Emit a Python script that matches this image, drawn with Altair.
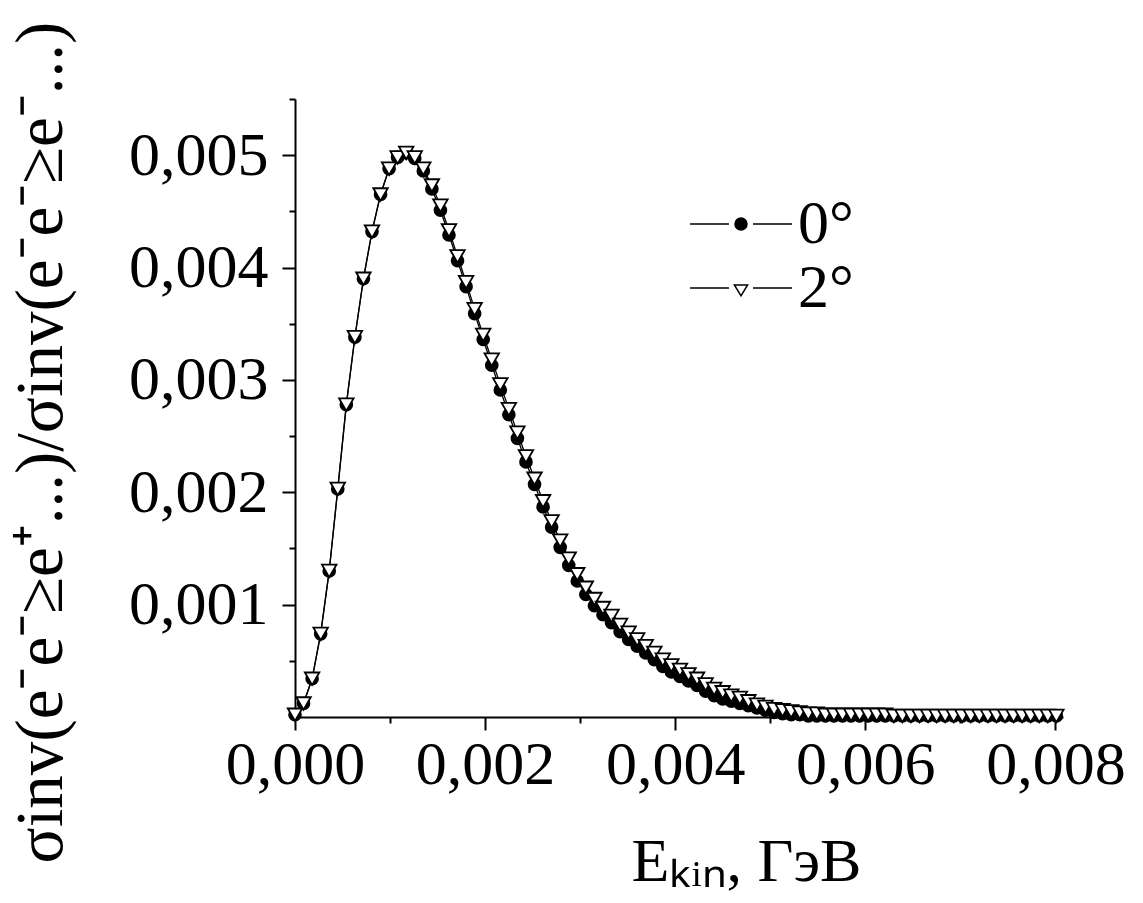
import altair as alt
import pandas as pd

energy = [0.00000, 0.00009, 0.00018, 0.00027, 0.00036, 0.00045, 0.00054, 0.00063, 0.00072, 0.00081,
          0.00090, 0.00099, 0.00108, 0.00117, 0.00126, 0.00135, 0.00144, 0.00153, 0.00162, 0.00171,
          0.00180, 0.00189, 0.00198, 0.00207, 0.00216, 0.00225, 0.00234, 0.00243, 0.00252, 0.00261,
          0.00270, 0.00279, 0.00288, 0.00297, 0.00306, 0.00315, 0.00324, 0.00333, 0.00342, 0.00351,
          0.00360, 0.00369, 0.00378, 0.00387, 0.00396, 0.00405, 0.00414, 0.00423, 0.00432, 0.00441,
          0.00450, 0.00459, 0.00468, 0.00477, 0.00486, 0.00495, 0.00504, 0.00513, 0.00522, 0.00531,
          0.00540, 0.00549, 0.00558, 0.00567, 0.00576, 0.00585, 0.00594, 0.00603, 0.00612, 0.00621,
          0.00630, 0.00639, 0.00648, 0.00657, 0.00666, 0.00675, 0.00684, 0.00693, 0.00702, 0.00711,
          0.00720, 0.00729, 0.00738, 0.00747, 0.00756, 0.00765, 0.00774, 0.00783, 0.00792, 0.00801]

ratio_2deg = [0.00002, 0.00012, 0.00034, 0.00074, 0.00130, 0.00203, 0.00278, 0.00338, 0.00390, 0.00432,
              0.00465, 0.00488, 0.00498, 0.00502, 0.00498, 0.00488, 0.00473, 0.00455, 0.00433, 0.00410,
              0.00387, 0.00363, 0.00340, 0.00318, 0.00296, 0.00274, 0.00253, 0.00232, 0.00212, 0.00192,
              0.00174, 0.00157, 0.00141, 0.00127, 0.00115, 0.00105, 0.00097, 0.00090, 0.00082, 0.00075,
              0.00069, 0.00063, 0.00057, 0.00051, 0.00046, 0.00042, 0.00038, 0.00034, 0.00029, 0.00025,
              0.00022, 0.00019, 0.00017, 0.00014, 0.00011, 0.00009, 0.00007, 0.00006, 0.00005, 0.00004,
              0.00003, 0.00003, 0.00002, 0.00002, 0.00002, 0.00002, 0.00002, 0.00002, 0.00002, 0.00002,
              0.00001, 0.00001, 0.00001, 0.00001, 0.00001, 0.00001, 0.00001, 0.00001, 0.00001, 0.00001,
              0.00001, 0.00001, 0.00001, 0.00001, 0.00001, 0.00001, 0.00001, 0.00001, 0.00001, 0.00001]

ratio_0deg = [0.00002, 0.00012, 0.00034, 0.00074, 0.00130, 0.00203, 0.00278, 0.00338, 0.00390, 0.00432,
              0.00465, 0.00488, 0.00498, 0.00502, 0.00497, 0.00486, 0.00470, 0.00451, 0.00429, 0.00406,
              0.00383, 0.00359, 0.00336, 0.00313, 0.00291, 0.00269, 0.00248, 0.00227, 0.00207, 0.00187,
              0.00169, 0.00151, 0.00135, 0.00121, 0.00109, 0.00099, 0.00091, 0.00084, 0.00076, 0.00069,
              0.00063, 0.00057, 0.00051, 0.00045, 0.00040, 0.00036, 0.00032, 0.00028, 0.00023, 0.00019,
              0.00016, 0.00014, 0.00012, 0.00010, 0.00008, 0.00006, 0.00004, 0.00003, 0.00002, 0.00002,
              0.00001, 0.00001, 0.00001, 0.00001, 0.00001, 0.00001, 0.00001, 0.00001, 0.00001, 0.00001,
              0.00001, 0.00001, 0.00001, 0.00001, 0.00001, 0.00001, 0.00001, 0.00001, 0.00001, 0.00001,
              0.00001, 0.00001, 0.00001, 0.00001, 0.00001, 0.00001, 0.00001, 0.00001, 0.00001, 0.00001]

series_names = ["0°", "2°"]
x_ticks = [0.000, 0.002, 0.004, 0.006, 0.008]
x_minor = [0.001, 0.003, 0.005, 0.007]
y_ticks = [0.001, 0.002, 0.003, 0.004, 0.005]
y_minor = [0.0005, 0.0015, 0.0025, 0.0035, 0.0045, 0.0055]

rows = []
for name, vals in zip(series_names, [ratio_0deg, ratio_2deg]):
    for e, v in zip(energy, vals):
        rows.append({"E": e, "ratio": v, "angle": name, "order": series_names.index(name)})
df = pd.DataFrame(rows)

FONT = "Liberation Serif"
FS = 62
fmt = "replace(format(datum.value, '.3f'), '.', ',')"

x_scale = alt.Scale(domain=[0, 0.00808], nice=False, zero=False)
y_scale = alt.Scale(domain=[0, 0.0055], nice=False)

x_major = alt.Axis(values=x_ticks, labelExpr=fmt, title="Eₖᵢₙ, ГэВ", grid=False, orient="bottom",
                   tickSize=13, tickWidth=2, domainWidth=2, domainColor="black", tickColor="black",
                   labelFont=FONT, labelFontSize=FS, labelColor="black", labelPadding=4,
                   labelFlush=False, labelOverlap=False,
                   titleFont=FONT, titleFontSize=FS, titleFontWeight="normal", titleColor="black",
                   titleX=451, titleY=163, titleBaseline="alphabetic", titleAnchor="start", titleAlign="center")
y_major = alt.Axis(values=y_ticks, labelExpr=fmt, title="σinv(e⁻e⁻≥e⁺...)/σinv(e⁻e⁻≥e⁻...)", grid=False,
                   orient="left",
                   tickSize=13, tickWidth=2, domainWidth=2, domainColor="black", tickColor="black",
                   labelFont=FONT, labelFontSize=FS, labelColor="black", labelPadding=14,
                   labelFlush=False, labelOverlap=False,
                   titleFont=FONT, titleFontSize=67, titleFontWeight="normal", titleColor="black",
                   titleAngle=270, titleX=-254, titleY=343, titleBaseline="middle", titleAlign="center")

x_minor_axis = alt.Axis(values=x_minor, labels=False, domain=False, grid=False, title="", orient="bottom",
                        tickSize=6, tickWidth=2, tickColor="black")
y_minor_axis = alt.Axis(values=y_minor, labels=False, domain=False, grid=False, title="", orient="left",
                        tickSize=6, tickWidth=2, tickColor="black")

lines = alt.Chart(df).mark_line(color="black", strokeWidth=1.3).encode(
    x=alt.X("E:Q", scale=x_scale, axis=x_major),
    y=alt.Y("ratio:Q", scale=y_scale, axis=y_major),
    detail="angle:N",
)

minor = alt.Chart(df).mark_line(opacity=0).encode(
    x=alt.X("E:Q", scale=x_scale, axis=x_minor_axis),
    y=alt.Y("ratio:Q", scale=y_scale, axis=y_minor_axis),
    detail="angle:N",
)

points = alt.Chart(df).mark_point(stroke="black", strokeWidth=1.8, opacity=1, fillOpacity=1).encode(
    x=alt.X("E:Q", scale=x_scale, axis=None),
    y=alt.Y("ratio:Q", scale=y_scale, axis=None),
    shape=alt.Shape("angle:N", scale=alt.Scale(domain=series_names, range=["circle", "triangle-down"]), legend=None),
    fill=alt.Fill("angle:N", scale=alt.Scale(domain=series_names, range=["black", "white"]), legend=None),
    size=alt.Size("angle:N", scale=alt.Scale(domain=series_names, range=[140, 210]), legend=None),
    order=alt.Order("order:Q"),
)

circle_path = "M-8.5,0L-2,0M2,0L8.5,0M-1,0A1,1,0,1,1,1,0A1,1,0,1,1,-1,0Z"
tri_path = "M-8.5,0L-2,0M2,0L8.5,0M-1.1,-0.5L1.1,-0.5L0,1.3Z"

legend = alt.Legend(title=None, orient="none", legendX=415, legendY=94,
                    labelFont=FONT, labelFontSize=FS, labelColor="black", labelOffset=26,
                    symbolSize=144, symbolStrokeWidth=1.5, symbolStrokeColor="black",
                    symbolOpacity=1, rowPadding=2)

legend_layer = alt.Chart(df).mark_point(opacity=0).encode(
    x=alt.X("E:Q", scale=x_scale, axis=None),
    y=alt.Y("ratio:Q", scale=y_scale, axis=None),
    shape=alt.Shape("angle:N", scale=alt.Scale(domain=series_names, range=[circle_path, tri_path]), legend=legend),
    fill=alt.Fill("angle:N", scale=alt.Scale(domain=series_names, range=["black", "white"]), legend=legend),
    stroke=alt.Stroke("angle:N", scale=alt.Scale(domain=series_names, range=["black", "black"]), legend=legend),
)

chart = alt.layer(lines, minor, points, legend_layer).resolve_scale(
    shape="independent", fill="independent", stroke="independent", size="independent"
).resolve_axis(
    x="independent", y="independent"
).properties(
    width=768, height=618,
    padding={"left": 295, "top": 99, "right": 80, "bottom": 186},
    autosize=alt.AutoSizeParams(type="none"),
    background="white",
).configure_view(stroke=None)

chart.save("out.html", embed_options={"renderer": "svg", "actions": False})
